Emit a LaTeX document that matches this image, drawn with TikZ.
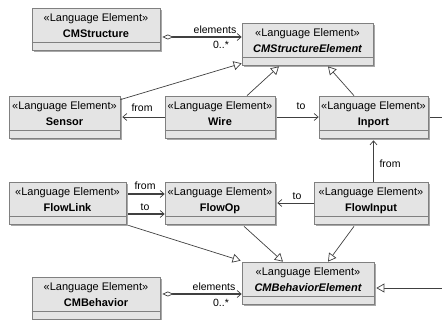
\documentclass[tikz,border=0pt]{standalone}
\usepackage{fontspec}
\setmainfont{Liberation Sans}
\usetikzlibrary{arrows.meta,shadows}
\definecolor{boxfill}{HTML}{E4E4E4}
\definecolor{boxline}{HTML}{808080}
\definecolor{shadowc}{HTML}{A8A8A8}
\definecolor{linec}{HTML}{404040}
\tikzset{
  umlbox/.style={draw=boxline, line width=0.7pt, fill=boxfill, inner sep=0pt,
    drop shadow={shadow xshift=2pt, shadow yshift=-2pt, fill=shadowc, opacity=1}},
  stereo/.style={font=\fontsize{11}{12}\selectfont, inner sep=0pt, anchor=base},
  cname/.style={font=\fontsize{11}{12}\selectfont\bfseries, inner sep=0pt, anchor=base},
  aname/.style={font=\fontsize{11}{12}\selectfont\bfseries\itshape, inner sep=0pt, anchor=base},
  lbl/.style={font=\fontsize{10.5}{12}\selectfont, inner sep=0pt},
  thinline/.style={draw=linec, line width=0.7pt},
  boldline/.style={draw=linec, line width=1.6pt},
  barb/.tip={Straight Barb[length=4pt,width=7pt,line width=0.7pt]},
  gen/.tip={Triangle[fill=white,length=8pt,width=9pt,line width=0.7pt]},
  agg/.tip={Diamond[fill=white,length=11pt,width=5pt,line width=0.7pt]},
}
\newcommand\umlclass[7]{%
  \node[umlbox, minimum width={(#4-#2)*1pt}, minimum height={(#5-#3)*1pt}]
    (#1) at ({(#2+#4)/2},{(#3+#5)/2}) {};
  \node[stereo] (#1-s) at ([yshift=-14pt]#1.north) {«Language Element»};
  \node[#6] (#1-n) at ([yshift=-30pt]#1.north) {#7};
  \draw[boxline, line width=0.7pt] ([yshift=8pt]#1.south west) -- ([yshift=8pt]#1.south east);
}
\begin{document}
\begin{tikzpicture}[x=1pt,y=-1pt]
\useasboundingbox (0,0) rectangle (442,320);
\umlclass{cms}{32}{8}{160}{50}{cname}{CMStructure}
\umlclass{cmse}{242}{23}{373}{65}{aname}{CMStructureElement}
\umlclass{sensor}{9}{96}{120}{138}{cname}{Sensor}
\umlclass{wire}{165}{96}{275}{138}{cname}{Wire}
\umlclass{inport}{319}{96}{428}{138}{cname}{Inport}
\umlclass{flowlink}{9}{182}{126}{224}{cname}{FlowLink}
\umlclass{flowop}{165}{182}{275}{224}{cname}{FlowOp}
\umlclass{flowinput}{314}{182}{428}{224}{cname}{FlowInput}
\umlclass{cmb}{32}{277}{160}{319}{cname}{CMBehavior}
\umlclass{cmbe}{242}{262}{374}{304}{aname}{CMBehaviorElement}
\coordinate (edgeA) at (442,117);
\coordinate (edgeB) at (442,288);
% aggregations
\draw[boldline, agg-barb] ([xshift=2pt,yshift=-8pt]cms.east) -- ([yshift=-8pt]cms.east -| cmse.west);
\node[lbl] (lelA) at (215,30) {elements};
\node[lbl] (lmA) at (221,45) {0..*};
\draw[boldline, agg-barb] ([xshift=2pt,yshift=4pt]cmb.east) -- ([yshift=4pt]cmb.east -| cmbe.west);
\node[lbl] (lelB) at (214,287) {elements};
\node[lbl] (lmB) at (221,303) {0..*};
% generalizations (top)
\draw[thinline, -gen] ([yshift=-4pt]sensor.north east) -- ([yshift=2pt]cmse.south west);
\draw[thinline, -gen] ([xshift=27pt]wire.north) -- ([xshift=-28.5pt,yshift=-1pt]cmse.south);
\draw[thinline, -gen] ([xshift=-19.5pt]inport.north) -- ([xshift=20.5pt,yshift=-1pt]cmse.south);
% associations middle row
\draw[thinline, -barb] (wire.west) -- ([xshift=2pt]sensor.east);
\node[lbl] (lfromA) at (142,108) {from};
\draw[thinline, -barb] ([xshift=2pt]wire.east) -- (inport.west);
\node[lbl] (ltoA) at (301,106) {to};
\draw[thinline] ([xshift=2pt]inport.east) -- (edgeA);
% flowinput -> inport
\draw[boldline, -barb] (inport.south |- flowinput.north) -- ([yshift=-2pt]inport.south);
\node[lbl] (lfromB) at (390,164) {from};
% flowinput -> flowop
\draw[thinline, -barb] (flowinput.west) -- ([xshift=2pt]flowinput.west -| flowop.east);
\node[lbl] (ltoB) at (297,196) {to};
% flowlink -> flowop
\draw[boldline, -barb] ([xshift=2pt,yshift=9pt]flowlink.east) -- ([yshift=9pt]flowlink.east -| flowop.west);
\node[lbl] (lfromC) at (145,186) {from};
\draw[boldline, -barb] ([xshift=2pt,yshift=-11pt]flowlink.east) -- ([yshift=-11pt]flowlink.east -| flowop.west);
\node[lbl] (ltoC) at (145,207) {to};
% generalizations (bottom)
\draw[thinline, -gen] ([xshift=2pt,yshift=-1pt]flowlink.south east) -- ([xshift=-1pt,yshift=1pt]cmbe.north west);
\draw[thinline, -gen] ([xshift=24pt,yshift=-2pt]flowop.south) -- ([xshift=-25pt]cmbe.north);
\draw[thinline, -gen] ([xshift=-17pt,yshift=-2pt]flowinput.south) -- ([xshift=20pt]cmbe.north);
\draw[thinline, -gen] (edgeB) -- ([xshift=2pt,yshift=-5pt]cmbe.east);
\end{tikzpicture}
\end{document}
